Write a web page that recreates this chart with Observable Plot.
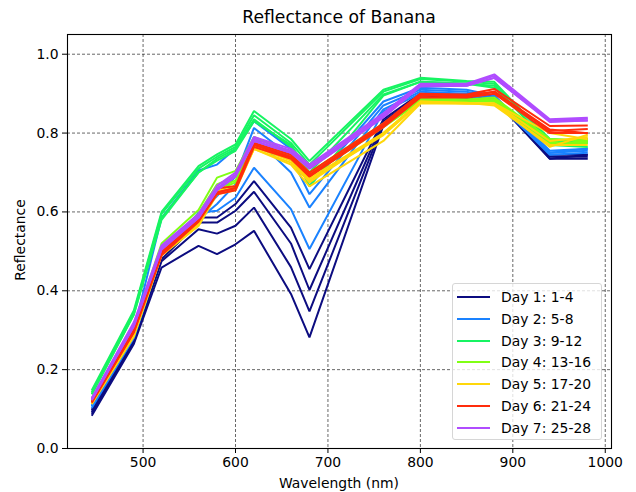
<!DOCTYPE html>
<html>
<head>
<meta charset="utf-8">
<script src="https://cdn.jsdelivr.net/npm/d3@7"></script>
<script src="https://cdn.jsdelivr.net/npm/@observablehq/plot@0.6"></script>
<style>
  html, body { margin: 0; padding: 0; background: #fff; }
  #wrap { position: relative; width: 636px; height: 492px; font-family: "DejaVu Sans", sans-serif; color: #000; overflow: hidden; }
  #wrap svg { position: absolute; left: 0; top: 0; }
  .abs { position: absolute; white-space: nowrap; }
  #title { left: 339px; top: 17px; transform: translate(-50%, -50%); font-size: 17.2px; }
  #xlabel { left: 339px; top: 483px; transform: translate(-50%, -50%); font-size: 13.9px; }
  #ylabel { left: 20px; top: 240px; transform: translate(-50%, -50%) rotate(-90deg); font-size: 13.9px; }
  #legend { left: 452px; top: 283px; width: 150px; height: 157px; background: rgba(255,255,255,0.8); border: 1px solid #d6d6d6; border-radius: 3px; box-sizing: border-box; }
  .item { position: absolute; left: 0; height: 20px; font-size: 13.9px; }
  .item .sw { position: absolute; left: 4px; top: 9px; width: 33px; height: 0; border-top: 2px solid; }
  .item .lb { position: absolute; left: 48px; top: 1px; line-height: 18px; }
</style>
</head>
<body>
<div id="wrap"></div>
<script>
const wavelengths = [445, 490, 520, 560, 580, 600, 620, 660, 680, 760, 800, 850, 880, 940, 980];

const dayLabels = ["Day 1: 1-4", "Day 2: 5-8", "Day 3: 9-12", "Day 4: 13-16", "Day 5: 17-20", "Day 6: 21-24", "Day 7: 25-28"];
const dayColors = ["#0c0c80", "#1a82ff", "#17f462", "#80ff14", "#ffd70a", "#ff2c0c", "#b04cff"];

const day1 = [
  [0.100, 0.280, 0.490, 0.586, 0.586, 0.620, 0.678, 0.560, 0.455, 0.835, 0.900, 0.895, 0.895, 0.745, 0.745],
  [0.095, 0.275, 0.480, 0.573, 0.573, 0.603, 0.651, 0.520, 0.402, 0.830, 0.895, 0.890, 0.890, 0.740, 0.740],
  [0.090, 0.270, 0.475, 0.556, 0.545, 0.565, 0.611, 0.460, 0.348, 0.825, 0.890, 0.885, 0.885, 0.735, 0.745],
  [0.085, 0.265, 0.459, 0.514, 0.493, 0.518, 0.552, 0.392, 0.282, 0.820, 0.885, 0.885, 0.890, 0.735, 0.735]
];
const day2 = [
  [0.115, 0.300, 0.585, 0.705, 0.720, 0.760, 0.830, 0.760, 0.666, 0.880, 0.915, 0.910, 0.895, 0.755, 0.760],
  [0.110, 0.290, 0.500, 0.590, 0.640, 0.690, 0.813, 0.740, 0.645, 0.870, 0.910, 0.905, 0.890, 0.750, 0.755],
  [0.110, 0.285, 0.495, 0.580, 0.620, 0.670, 0.790, 0.700, 0.611, 0.860, 0.905, 0.900, 0.885, 0.745, 0.750],
  [0.105, 0.280, 0.490, 0.598, 0.603, 0.636, 0.712, 0.607, 0.506, 0.855, 0.900, 0.895, 0.880, 0.750, 0.760]
];
const day3 = [
  [0.150, 0.350, 0.600, 0.716, 0.746, 0.771, 0.856, 0.785, 0.729, 0.910, 0.940, 0.932, 0.930, 0.780, 0.775],
  [0.145, 0.345, 0.595, 0.710, 0.740, 0.765, 0.845, 0.775, 0.720, 0.905, 0.937, 0.930, 0.925, 0.785, 0.780],
  [0.140, 0.340, 0.585, 0.700, 0.735, 0.760, 0.835, 0.765, 0.665, 0.895, 0.930, 0.925, 0.920, 0.770, 0.765],
  [0.140, 0.340, 0.580, 0.700, 0.730, 0.755, 0.830, 0.770, 0.700, 0.898, 0.930, 0.925, 0.915, 0.775, 0.785]
];
const day4 = [
  [0.130, 0.310, 0.520, 0.605, 0.687, 0.704, 0.790, 0.750, 0.700, 0.825, 0.890, 0.885, 0.890, 0.785, 0.780],
  [0.125, 0.305, 0.510, 0.595, 0.670, 0.690, 0.780, 0.745, 0.690, 0.820, 0.885, 0.885, 0.885, 0.780, 0.785],
  [0.125, 0.300, 0.505, 0.590, 0.660, 0.680, 0.775, 0.740, 0.700, 0.820, 0.885, 0.880, 0.885, 0.775, 0.775],
  [0.120, 0.300, 0.500, 0.585, 0.655, 0.675, 0.770, 0.735, 0.690, 0.815, 0.880, 0.880, 0.880, 0.770, 0.780]
];
const day5 = [
  [0.120, 0.290, 0.500, 0.575, 0.660, 0.665, 0.770, 0.735, 0.685, 0.800, 0.880, 0.875, 0.875, 0.780, 0.790],
  [0.120, 0.290, 0.495, 0.570, 0.655, 0.660, 0.765, 0.730, 0.680, 0.795, 0.877, 0.875, 0.875, 0.765, 0.795],
  [0.115, 0.285, 0.490, 0.565, 0.650, 0.660, 0.760, 0.725, 0.675, 0.800, 0.880, 0.877, 0.870, 0.770, 0.770],
  [0.115, 0.285, 0.490, 0.565, 0.645, 0.655, 0.760, 0.720, 0.665, 0.780, 0.875, 0.875, 0.875, 0.800, 0.785]
];
const day6 = [
  [0.125, 0.300, 0.500, 0.585, 0.660, 0.665, 0.775, 0.745, 0.700, 0.825, 0.900, 0.898, 0.912, 0.818, 0.819],
  [0.120, 0.300, 0.497, 0.580, 0.649, 0.661, 0.771, 0.740, 0.695, 0.820, 0.897, 0.895, 0.905, 0.809, 0.800],
  [0.120, 0.295, 0.495, 0.578, 0.650, 0.660, 0.770, 0.737, 0.690, 0.818, 0.895, 0.893, 0.905, 0.805, 0.810],
  [0.118, 0.295, 0.490, 0.575, 0.645, 0.655, 0.765, 0.735, 0.690, 0.815, 0.890, 0.890, 0.900, 0.800, 0.800]
];
const day7 = [
  [0.130, 0.320, 0.515, 0.595, 0.666, 0.700, 0.790, 0.760, 0.720, 0.850, 0.925, 0.925, 0.949, 0.835, 0.839],
  [0.128, 0.315, 0.510, 0.590, 0.660, 0.695, 0.785, 0.755, 0.715, 0.845, 0.922, 0.923, 0.945, 0.832, 0.836],
  [0.125, 0.310, 0.505, 0.585, 0.655, 0.690, 0.780, 0.750, 0.710, 0.840, 0.920, 0.920, 0.940, 0.830, 0.832],
  [0.125, 0.310, 0.505, 0.585, 0.655, 0.690, 0.780, 0.750, 0.710, 0.840, 0.918, 0.920, 0.940, 0.828, 0.832]
];

const xTicks = [500, 600, 700, 800, 900, 1000];
const yTicks = [0, 0.2, 0.4, 0.6, 0.8, 1.0];

const days = [day1, day2, day3, day4, day5, day6, day7];
const rows = [];
days.forEach((day, di) => {
  day.forEach((series, si) => {
    series.forEach((v, i) => {
      rows.push({wl: wavelengths[i], r: v, day: dayLabels[di], sid: di * 4 + si});
    });
  });
});

const span = wavelengths[wavelengths.length - 1] - wavelengths[0];
const xDomain = [wavelengths[0] - span * 0.05, wavelengths[wavelengths.length - 1] + span * 0.05];

const chart = Plot.plot({
  width: 636,
  height: 492,
  marginTop: 34,
  marginBottom: 44,
  marginLeft: 67,
  marginRight: 25,
  style: {fontFamily: "DejaVu Sans, sans-serif", fontSize: "13.9px", color: "#000", background: "transparent"},
  x: {domain: xDomain, label: null},
  y: {domain: [0, 1.05], label: null},
  color: {domain: dayLabels, range: dayColors},
  marks: [
    Plot.gridX(xTicks, {stroke: "#000", strokeOpacity: 0.75, strokeDasharray: "3,2", strokeWidth: 0.8}),
    Plot.gridY(yTicks, {stroke: "#000", strokeOpacity: 0.75, strokeDasharray: "3,2", strokeWidth: 0.8}),
    Plot.line(rows, {x: "wl", y: "r", z: "sid", stroke: "day", strokeWidth: 2, strokeLinejoin: "miter", strokeLinecap: "square"}),
    Plot.axisX({ticks: xTicks, tickSize: 5, tickPadding: 4, tickFormat: d3.format("d"), label: null, fontSize: 13.9}),
    Plot.axisY({ticks: yTicks, tickSize: 5, tickPadding: 4, tickFormat: d3.format(".1f"), label: null, fontSize: 13.9}),
    Plot.frame({stroke: "#000", strokeWidth: 1.1})
  ]
});

const wrap = document.getElementById("wrap");
wrap.appendChild(chart);

function addText(id, txt) {
  const d = document.createElement("div");
  d.id = id; d.className = "abs"; d.textContent = txt;
  wrap.appendChild(d);
}
addText("title", "Reflectance of Banana");
addText("xlabel", "Wavelength (nm)");
addText("ylabel", "Reflectance");

const lg = document.createElement("div");
lg.id = "legend"; lg.className = "abs";
dayLabels.forEach((lab, i) => {
  const it = document.createElement("div");
  it.className = "item";
  it.style.top = (3 + i * 21.8) + "px";
  const sw = document.createElement("div");
  sw.className = "sw"; sw.style.borderTopColor = dayColors[i];
  const lb = document.createElement("div");
  lb.className = "lb"; lb.textContent = lab;
  it.appendChild(sw); it.appendChild(lb);
  lg.appendChild(it);
});
wrap.appendChild(lg);
</script>
</body>
</html>
